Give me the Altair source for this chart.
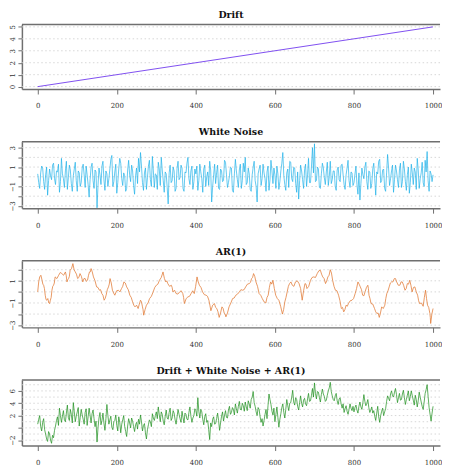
import altair as alt
import pandas as pd

# ---------------- data ----------------
x_ticks = [0, 200, 400, 600, 800, 1000]

drift_x = [0, 1000]
drift_y = [0, 5]

# white noise, one value every 2.5 time steps
wn_y = [
    0.3, -0.6, -1.2, 0.4, 1.1, 0.9, -0.5, -1.3, 0.2, 1.0, -1.9, -0.4, 0.8, 0.1, -0.3, 1.2, 1.4, -0.2, -0.8, 0.6,
    0.5, 1.3, -1.6, -0.5, 1.9, 0.3, -0.2, -1.1, 0.6, 1.6, -1.3, -0.1, 1.2, 0.7, -0.7, -1.5, 0.1, 0.8, 1.5, -0.4,
    -1.5, 0.6, 0.4, -1.0, -0.6, 0.9, 1.3, 0.2, -1.1, 1.1, 0.2, -0.8, -2.1, -0.3, 1.0, 1.4, -0.4, -1.2, 0.7, 0.5,
    -3.2, -0.9, 0.9, 0.2, -0.8, 1.1, 1.6, -0.3, -1.4, 0.6, 0.3, -1.0, -0.2, 0.8, 1.8, 2.2, -1.0, -0.5, 0.5, 1.3,
    -1.7, -0.6, 0.8, 1.9, 1.4, -0.2, -0.9, 0.4, 0.1, -1.5, -1.2, 0.7, 1.7, 0.2, -0.5, 1.2, 0.6, -0.9, -1.8, 0.1,
    0.9, -0.7, 1.9, 0.5, 2.5, 1.1, -0.6, -1.4, 0.4, 0.9, -1.3, -0.1, 1.1, 1.7, -0.3, -1.0, 2.1, 0.6, -1.1, 0.3,
    0.2, -1.3, 1.5, 0.8, -0.9, 2.0, 0.7, -0.4, -1.6, 0.5, 0.3, -1.1, -2.8, 0.4, 1.2, -0.6, -0.4, 1.0, 0.6, -1.5,
    -1.2, 0.9, 1.6, -0.3, -0.1, 1.2, 0.9, -1.2, -1.5, 0.5, 0.4, 1.4, 2.0, -0.2, -0.8, 0.6, 1.1, -1.3, -0.5, 0.8,
    0.3, 1.1, -1.4, -0.4, 1.3, 0.5, -0.2, -1.6, 0.8, 1.2, -1.0, 0.0, 0.5, -0.9, 1.6, 0.7, -2.6, -1.0, 0.2, 1.3,
    -0.7, 0.4, 1.2, -1.2, -1.3, 0.8, 0.6, -0.5, -0.4, 1.7, 1.5, 0.2, -1.1, -0.6, 0.1, 1.0, 0.9, -1.4, -1.6, 0.3,
    1.8, 0.6, -0.3, -1.1, 0.7, 1.3, -1.2, -0.4, 1.4, 0.5, 2.0, -0.8, -0.6, 0.9, 0.3, -1.3, -1.5, 0.2, 1.0, 1.6,
    -0.4, -1.0, -2.6, 0.3, 0.8, 1.2, -0.9, -0.2, 1.3, 0.4, -0.2, -1.5, 0.5, 1.1, -1.4, -0.3, 1.7, 0.6, -0.7, 0.9,
    0.2, -1.2, 1.1, 0.3, -1.3, -0.5, 0.6, 1.4, 2.5, 0.1, -0.8, -1.4, 0.4, 0.8, -1.1, 1.6, 1.5, -0.2, -0.5, 1.0,
    0.9, -0.7, -1.6, 0.5, -2.3, -0.4, 1.2, 0.6, -0.3, -1.2, 0.7, 1.3, -1.0, 0.2, 1.9, -0.6, -0.6, 1.1, 3.0, 0.4,
    3.4, -0.5, -0.4, 1.0, 0.8, -1.1, -1.2, 0.3, 1.4, 0.9, -0.1, -0.8, 0.5, 1.5, -0.9, 0.0, 1.6, -0.7, -0.3, 0.6,
    0.6, -1.0, -1.4, 0.7, 1.0, -0.3, -0.5, 1.2, 1.3, 0.2, -0.8, -1.3, 0.2, 0.9, 1.7, -0.4, -1.1, 0.5, 0.4, -0.9,
    -0.6, 0.3, 1.1, -0.8, -1.8, 0.4, -2.4, -0.7, 0.9, 0.2, -0.2, 1.0, 1.5, -0.5, -1.3, 0.6, 0.5, -1.2, -0.7, 0.8,
    1.4, -0.2, -1.9, 0.5, 0.3, 1.6, 1.8, -0.6, -0.4, 0.7, 0.8, -1.2, -1.5, 0.4, 2.3, 0.9, -0.9, -0.2, 0.6, 1.2,
    -1.6, -0.3, 1.2, 0.6, -0.3, -1.1, 0.7, 1.4, -1.1, -0.5, 1.6, 0.8, -0.5, -1.4, 0.2, 1.0, -1.7, -0.6, 1.3, 0.4,
    -0.8, 0.9, 0.5, -1.3, 1.9, 0.7, -1.2, -0.2, 0.4, 1.5, -0.6, -1.0, 1.7, 0.5, 2.6, -0.4, -1.5, 0.6, 0.3, -0.5,
    0.2,
]

# AR(1): main turning points
ar_x = [0, 5, 11, 15, 19, 23, 28, 32, 36, 40, 44, 53, 61, 70, 74, 78, 82, 89, 95, 101,
        107, 114, 120, 126, 131, 135, 141, 149, 156, 162, 168, 173, 179, 183, 189, 195, 204, 212, 218, 225,
        233, 240, 246, 254, 260, 265, 268, 275, 283, 292, 300, 308, 317, 324, 329, 338, 342, 350, 359, 367,
        371, 380, 388, 396, 403, 409, 417, 426, 433, 438, 447, 453, 459, 466, 472, 476, 484, 493, 501, 510,
        518, 526, 535, 541, 546, 552, 560, 568, 577, 583, 589, 595, 602, 610, 619, 625, 631, 637, 644, 652,
        661, 669, 676, 681, 690, 698, 707, 715, 721, 728, 734, 740, 746, 753, 761, 768, 774, 780, 786, 795,
        803, 810, 816, 822, 828, 835, 838, 843, 852, 858, 864, 870, 878, 883, 889, 895, 902, 908, 916, 922,
        929, 935, 941, 947, 954, 961, 966, 975, 981, 986, 992, 994, 1000]
ar_y = [0.0, 1.35, 1.05, 0.6, -0.3, -0.75, -1.0, -0.75, 0.15, 0.6, 1.35, 1.5, 1.65, 1.8, 0.9, 1.2, 1.95, 2.55, 1.8, 1.2,
        1.65, 0.9, 1.2, 1.05, 1.8, 2.1, 1.35, 0.45, 0.15, -0.15, -0.75, -0.3, 0.45, 1.2, 0.15, -0.3, 0.15, 0.3, 0.9, 0.45,
        -0.3, -0.9, -1.35, -1.5, -0.75, -1.35, -2.1, -1.2, -0.6, 0.0, 0.6, 1.05, 1.8, 0.9, 0.75, 0.6, 0.0, -0.15, 0.0, -0.15,
        -1.05, -0.45, -0.15, -0.15, 1.35, 0.6, 0.0, -0.3, -0.75, -1.7, -1.05, -1.5, -2.3, -1.35, -1.95, -2.25, -1.35, -0.6, -0.3, 0.0,
        0.15, 0.45, 0.75, 1.2, 1.65, 0.9, -0.15, -0.6, -1.0, -0.3, 0.9, 1.05, -0.3, -0.75, -2.0, -0.9, 0.0, 0.75, 0.6, 0.9,
        0.75, -0.75, 0.75, 0.3, 1.05, 1.35, 1.65, 1.95, 1.35, 0.75, 1.35, 2.0, 1.05, 0.15, -0.3, -1.5, -1.8, -1.2, -1.05, -0.75,
        -0.15, 0.9, 0.45, -0.3, 0.0, 0.6, -0.3, -1.05, -1.5, -1.95, -2.3, -1.35, -1.2, -0.15, 0.45, 0.9, 1.2, 0.9, 0.6, 0.9,
        0.15, 0.75, 1.05, 0.0, 0.45, -0.3, -1.05, -1.3, 0.15, -1.2, -1.95, -2.85, -1.5]

# AR(1): small wiggles between the turning points
ar_wx = [2.5, 8, 13, 17, 21, 25.5, 30, 34, 38, 42, 48.5, 57, 65.5, 72, 76, 80, 85.5, 92, 98, 104,
         110.5, 117, 123, 128.5, 133, 138, 145, 152.5, 159, 165, 170.5, 176, 181, 186, 192, 199.5, 208, 215, 221.5, 229,
         236.5, 243, 250, 257, 262.5, 266.5, 271.5, 279, 287.5, 296, 304, 312.5, 320.5, 326.5, 333.5, 340, 346, 354.5, 363, 369,
         375.5, 384, 392, 399.5, 406, 413, 421.5, 429.5, 435.5, 442.5, 450, 456, 462.5, 469, 474, 480, 488.5, 497, 505.5, 514,
         522, 530.5, 538, 543.5, 549, 556, 564, 572.5, 580, 586, 592, 598.5, 606, 614.5, 622, 628, 634, 640.5, 648, 656.5,
         665, 672.5, 678.5, 685.5, 694, 702.5, 711, 718, 724.5, 731, 737, 743, 749.5, 757, 764.5, 771, 777, 783, 790.5, 799,
         806.5, 813, 819, 825, 831.5, 836.5, 840.5, 847.5, 855, 861, 867, 874, 880.5, 886, 892, 898.5, 905, 912, 919, 925.5,
         932, 938, 944, 950.5, 957.5, 963.5, 970.5, 978, 983.5, 989, 993, 997]
ar_wy = [0.9, 1.5, 0.7, 0.3, -0.7, -0.6, -1.05, -0.5, 0.5, 0.8, 1.2, 1.75, 1.5, 1.5, 1.1, 1.4, 2.1, 2.0, 1.6, 1.3,
         1.4, 1.2, 0.95, 1.5, 1.8, 1.8, 1.0, 0.4, 0.2, -0.3, -0.6, 0.2, 0.7, 0.8, -0.1, 0.1, 0.0, 0.5, 0.8, 0.2,
         -0.5, -1.2, -1.2, -1.1, -0.9, -1.6, -1.6, -1.0, -0.4, 0.4, 0.7, 1.3, 1.2, 1.0, 0.5, 0.4, 0.15, -0.2, 0.1, -0.5,
         -0.6, -0.4, 0.1, 0.5, 0.9, 0.4, -0.25, -0.4, -1.2, -1.2, -1.4, -1.8, -1.9, -1.5, -2.0, -1.9, -1.0, -0.55, -0.2, 0.2,
         0.2, 0.7, 0.85, 1.3, 1.4, 0.5, -0.3, -0.9, -0.5, 0.4, 0.7, 0.3, -0.6, -1.3, -1.6, -0.5, 0.5, 0.9, 0.5, 1.0,
         0.3, 0.1, 0.7, 0.5, 1.3, 1.3, 1.9, 1.6, 1.2, 1.0, 1.5, 1.7, 0.5, 0.1, -0.8, -1.4, -1.6, -1.3, -0.8, -0.6,
         0.3, 0.7, 0.2, -0.35, 0.4, 0.3, -0.6, -1.1, -1.8, -1.9, -1.9, -1.5, -0.6, 0.1, 0.8, 0.9, 1.2, 0.6, 0.9, 0.6,
         0.3, 0.7, 0.6, 0.4, 0.0, -0.8, -1.0, -0.5, -0.6, -1.4, -2.3, -2.0]

# drift + white noise + AR(1), one value every 2.5 time steps
gr_y = [
    0.6, 1.4, 2.0, 0.2, -0.5, 0.9, 1.5, -0.3, -1.0, -1.8, -2.2, -0.6, -1.0, -2.0, -2.5, -1.2, -1.6, -0.4, 0.3, 1.2,
    1.8, 0.4, 3.2, 2.0, 0.9, 1.9, 2.8, 1.3, 1.0, 2.4, 3.7, 1.7, 1.2, 3.0, 2.2, 0.8, 4.1, 2.6, 1.0, 1.9,
    2.6, 3.3, 0.3, 1.7, 3.0, 2.1, 1.4, 0.6, 2.5, 3.1, 0.4, 1.8, 3.2, 2.0, 0.8, 2.3, 2.9, 1.5, 0.2, 1.1,
    -2.3, 0.0, 1.6, 2.5, 0.5, 1.2, 2.4, 0.8, -0.4, 1.5, 3.8, 2.0, 0.6, 1.3, 1.9, 0.1, -0.3, 1.0, 1.2, 2.1,
    0.4, -0.5, 1.8, 0.9, -0.8, 0.6, 1.3, 2.0, 0.2, -0.6, -1.4, 0.3, 1.5, 0.8, 0.0, 1.6, 1.1, 0.2, -0.6, 0.5,
    0.9, -0.2, 1.4, 0.6, 2.1, 1.0, -0.5, 0.4, 0.7, -0.8, -1.8, -0.3, 0.5, 1.3, 1.0, 0.2, 2.3, 1.6, 1.2, 2.0,
    2.6, 1.5, 3.4, 2.1, 1.0, 2.6, 2.2, 1.1, 0.5, 1.9, 2.9, 1.6, 1.4, 2.5, 3.2, 1.2, 1.6, 2.8, 2.4, 1.3,
    0.6, 1.8, 3.0, 2.2, 1.5, 0.9, 2.7, 1.7, 0.8, 2.4, 2.2, 1.4, 1.3, 2.5, 3.4, 1.9, 0.9, 1.6, 2.0, 3.1,
    2.8, 1.9, 4.9, 2.7, 1.6, 3.0, 2.6, 1.4, 0.5, 1.8, 2.3, 0.9, 1.2, -0.3, -1.9, 0.8, 0.2, 1.4, 1.8, 0.6,
    0.7, 1.5, 2.4, 1.2, -0.4, 0.8, 1.9, 2.6, 1.1, 2.0, 2.8, 1.7, 1.6, 2.9, 3.5, 2.2, 2.5, 3.3, 3.0, 2.1,
    3.9, 3.1, 2.4, 3.5, 4.3, 3.0, 2.9, 4.0, 3.6, 2.7, 4.2, 3.4, 2.8, 4.4, 3.9, 3.2, 4.6, 5.0, 5.9, 4.1,
    3.5, 2.6, 2.0, 3.3, 3.0, 1.8, 0.9, 1.5, 0.3, 1.2, 2.2, 3.0, 1.5, 3.6, 5.5, 4.6, 3.8, 2.7, 2.1, 3.2,
    1.0, 2.2, 3.4, 1.7, 0.1, 1.4, 2.3, 3.3, 3.9, 2.5, 1.6, 3.0, 4.6, 3.6, 2.8, 4.0, 4.1, 5.0, 6.1, 4.2,
    3.7, 4.9, 4.6, 3.5, 2.9, 4.1, 5.2, 4.0, 3.4, 4.5, 4.8, 3.9, 3.6, 4.7, 5.6, 4.3, 4.4, 5.3, 6.4, 5.0,
    7.3, 5.6, 4.7, 5.9, 5.8, 4.9, 4.2, 5.4, 6.3, 5.5, 5.1, 4.3, 4.5, 5.3, 6.0, 6.5, 7.4, 5.9, 5.2, 4.6,
    4.4, 5.2, 5.6, 4.4, 3.8, 4.7, 4.9, 3.9, 3.2, 3.9, 2.5, 3.1, 3.6, 2.7, 2.2, 3.0, 3.9, 3.2, 2.8, 3.5,
    2.6, 3.3, 3.7, 2.9, 2.4, 3.5, 4.2, 3.4, 3.0, 4.1, 5.4, 4.3, 3.6, 4.0, 4.6, 3.3, 2.5, 2.9, 3.4, 2.4,
    2.8, 1.9, 1.2, 2.4, 3.5, 1.8, 0.9, 2.0, 2.7, 3.2, 2.0, 2.6, 3.1, 4.3, 5.2, 4.8, 4.4, 5.5, 6.0, 5.2,
    5.0, 5.8, 6.4, 5.4, 4.1, 4.9, 5.6, 4.5, 4.6, 5.5, 6.1, 4.9, 3.8, 4.6, 5.3, 6.0, 4.4, 5.1, 6.0, 5.2,
    4.5, 3.7, 5.3, 4.6, 3.4, 4.4, 5.8, 5.0, 4.2, 3.5, 3.0, 4.2, 5.6, 6.2, 7.0, 5.1, 3.3, 2.2, 1.1, 2.4,
    3.5,
]

# ---------------- chart ----------------
FONT = "DejaVu Serif"
BOX = "#6f6f6f"
W = 421


def panel(title, df, color, opacity, lw, h, ydom, grid_vals, tick_vals, label_vals):
    gdf = pd.DataFrame({"y": grid_vals})
    yscale = alt.Scale(domain=ydom, nice=False, zero=False)
    lab = "[" + ",".join(str(v) for v in label_vals) + "]"
    yaxis = alt.Axis(values=tick_vals, title=None, grid=False, labelAngle=-90,
                     labelAlign="center", labelBaseline="bottom",
                     labelFlush=False, labelOverlap=False, tickSize=4,
                     labelPadding=2,
                     labelExpr="indexof(" + lab + ", datum.value) >= 0 ? datum.label : ''")
    grid = alt.Chart(gdf).mark_rule(
        color="#d2d2d2", strokeDash=[1.5, 2.5], strokeWidth=0.9
    ).encode(y=alt.Y("y:Q", scale=yscale, axis=yaxis, title=None))
    top = alt.Chart(pd.DataFrame({"a": [0]})).mark_rule(
        color=BOX, strokeWidth=1.5
    ).encode(y=alt.value(0))
    line = alt.Chart(df).mark_line(
        color=color, strokeWidth=lw, opacity=opacity, clip=True
    ).encode(
        x=alt.X("x:Q", scale=alt.Scale(domain=[-40, 1017.6], nice=False, zero=False),
                axis=alt.Axis(values=x_ticks, title=None, grid=False, labelFlush=False,
                              format="d", labelOverlap=False, tickSize=5, labelPadding=8)),
        y=alt.Y("y:Q", scale=yscale, axis=yaxis, title=None),
        order="x:Q",
    )
    return alt.layer(grid, line, top).properties(width=W, height=h, title=title)


df_drift = pd.DataFrame({"x": drift_x, "y": drift_y})
df_wn = pd.DataFrame({"x": [2.5 * i for i in range(len(wn_y))], "y": wn_y})
df_ar = pd.concat([pd.DataFrame({"x": ar_x, "y": ar_y}),
                   pd.DataFrame({"x": ar_wx, "y": ar_wy})]).sort_values("x")
df_gr = pd.DataFrame({"x": [2.5 * i for i in range(len(gr_y))], "y": gr_y})

p1 = panel("Drift", df_drift, "#8050f0", 1.0, 1.0, 65,
           [-0.2, 5.2], [0, 1, 2, 3, 4, 5], [0, 1, 2, 3, 4, 5], [0, 1, 2, 3, 4, 5])
p2 = panel("White Noise", df_wn, "#19b0e8", 0.75, 0.9, 67,
           [-3.24, 3.62], [-3, -2, -1, 0, 1, 2, 3], [-3, -2, -1, 0, 1, 2, 3], [-3, -1, 1, 3])
p3 = panel("AR(1)", df_ar, "#e07a35", 0.85, 0.9, 67,
           [-3.2, 2.8], [-3, -2, -1, 0, 1, 2], [-3, -2, -1, 0, 1, 2], [-3, -1, 1])
p4 = panel("Drift + White Noise + AR(1)", df_gr, "#1f8f1f", 0.8, 0.9, 66,
           [-2.87, 7.77], [-2, -1, 0, 1, 2, 3, 4, 5, 6, 7], [-2, 0, 2, 4, 6], [-2, 2, 4, 6])

chart = alt.vconcat(p1, p2, p3, p4, spacing=18).properties(
    padding=0
).configure_view(stroke=None).configure_axis(
    labelFont=FONT, labelFontSize=7, labelColor="#333333",
    domainColor=BOX, domainWidth=1.5, tickColor=BOX, tickWidth=1,
).configure_title(
    font=FONT, fontSize=9.5, fontWeight="bold", color="#111111", offset=4
)

chart.save("out.html", embed_options={"renderer": "svg", "actions": False})
